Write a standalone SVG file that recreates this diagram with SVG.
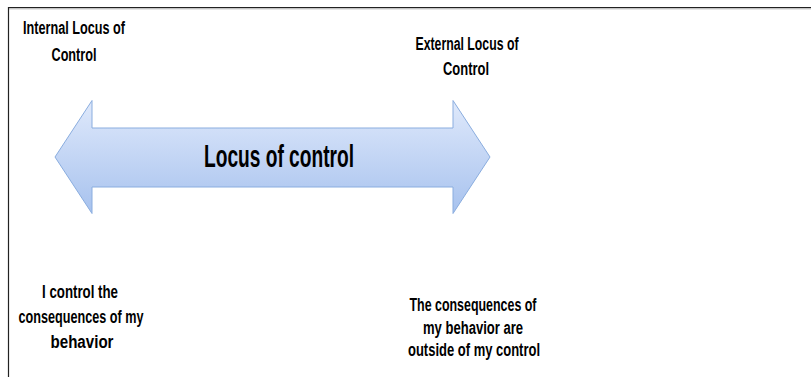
<svg xmlns="http://www.w3.org/2000/svg" width="811" height="377" viewBox="0 0 811 377">
<style>
.t{font-family:"Liberation Sans",Arial,sans-serif;font-weight:bold;fill:#000;text-anchor:middle;}
.s{font-size:17.5px;}
.big{font-size:31px;}
</style>
<defs>
<linearGradient id="g" x1="0" y1="0" x2="0" y2="1">
<stop offset="0" stop-color="#dfe9fb"/>
<stop offset="1" stop-color="#a7c2ee"/>
</linearGradient>
</defs>
<rect x="0" y="0" width="811" height="377" fill="#fff"/>
<g id="frame">
<line x1="8" y1="7.5" x2="811" y2="7.5" stroke="#222" stroke-width="1.2"/>
<line x1="9" y1="8.8" x2="811" y2="8.8" stroke="#aaa" stroke-width="1"/>
<line x1="8.5" y1="7" x2="8.5" y2="377" stroke="#222" stroke-width="1.2"/>
</g>
<g id="connectors">
<g id="arrow">
<path d="M55,157 L92,100.5 L92,128 L453,128 L453,100.5 L490,157 L453,213.5 L453,187 L92,187 L92,213.5 Z" fill="url(#g)" stroke="#8aaddf" stroke-width="1"/>
<text class="t big" x="279" y="167" textLength="150" lengthAdjust="spacingAndGlyphs">Locus of control</text>
</g>
</g>
<g id="internal">
<text class="t s" x="74" y="34" textLength="102" lengthAdjust="spacingAndGlyphs">Internal Locus of</text>
<text class="t s" x="74" y="61" textLength="45" lengthAdjust="spacingAndGlyphs">Control</text>
</g>
<g id="external">
<text class="t s" x="467" y="50" textLength="103" lengthAdjust="spacingAndGlyphs">External Locus of</text>
<text class="t s" x="466" y="75" textLength="46" lengthAdjust="spacingAndGlyphs">Control</text>
</g>
<g id="internal-desc">
<text class="t s" x="80" y="298" textLength="76" lengthAdjust="spacingAndGlyphs">I control the</text>
<text class="t s" x="81" y="323" textLength="125" lengthAdjust="spacingAndGlyphs">consequences of my</text>
<text class="t s" x="82" y="348" textLength="63" lengthAdjust="spacingAndGlyphs">behavior</text>
</g>
<g id="external-desc">
<text class="t s" x="473" y="311" textLength="127" lengthAdjust="spacingAndGlyphs">The consequences of</text>
<text class="t s" x="473" y="334" textLength="100" lengthAdjust="spacingAndGlyphs">my behavior are</text>
<text class="t s" x="474" y="356" textLength="132" lengthAdjust="spacingAndGlyphs">outside of my control</text>
</g>
</svg>
